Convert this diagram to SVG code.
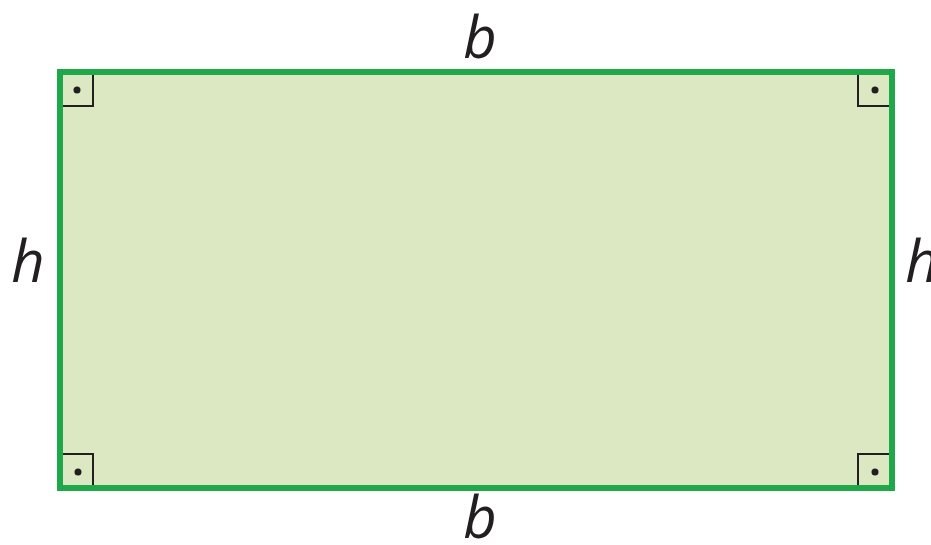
<svg xmlns="http://www.w3.org/2000/svg" width="931" height="545" viewBox="0 0 931 545">
<style>
.lbl{font-family:"Open Sans","Liberation Sans",sans-serif;font-style:italic;font-size:58px;fill:#231f20;text-anchor:middle}
.ra{fill:none;stroke:#231f20;stroke-width:2}
.dot{fill:#231f20}
</style>
<rect width="931" height="545" fill="#ffffff"/>
<g id="rectangle">
<rect x="60" y="72" width="832" height="416" fill="#dbe8c1" stroke="#1fa84a" stroke-width="6"/>
</g>
<g id="right-angles">
<path class="ra" d="M63 106 H93 V75"/>
<circle class="dot" cx="77" cy="90" r="3.5"/>
<path class="ra" d="M858 75 V106 H889"/>
<circle class="dot" cx="875" cy="90" r="3.5"/>
<path class="ra" d="M63 454 H93 V485"/>
<circle class="dot" cx="78" cy="472" r="3.5"/>
<path class="ra" d="M889 454 H858 V485"/>
<circle class="dot" cx="875" cy="472" r="3.5"/>
</g>
<g id="labels">
<text class="lbl" x="480" y="58">b</text>
<text class="lbl" x="480" y="538">b</text>
<text class="lbl" x="28" y="282">h</text>
<text class="lbl" x="922" y="282">h</text>
</g>
</svg>
